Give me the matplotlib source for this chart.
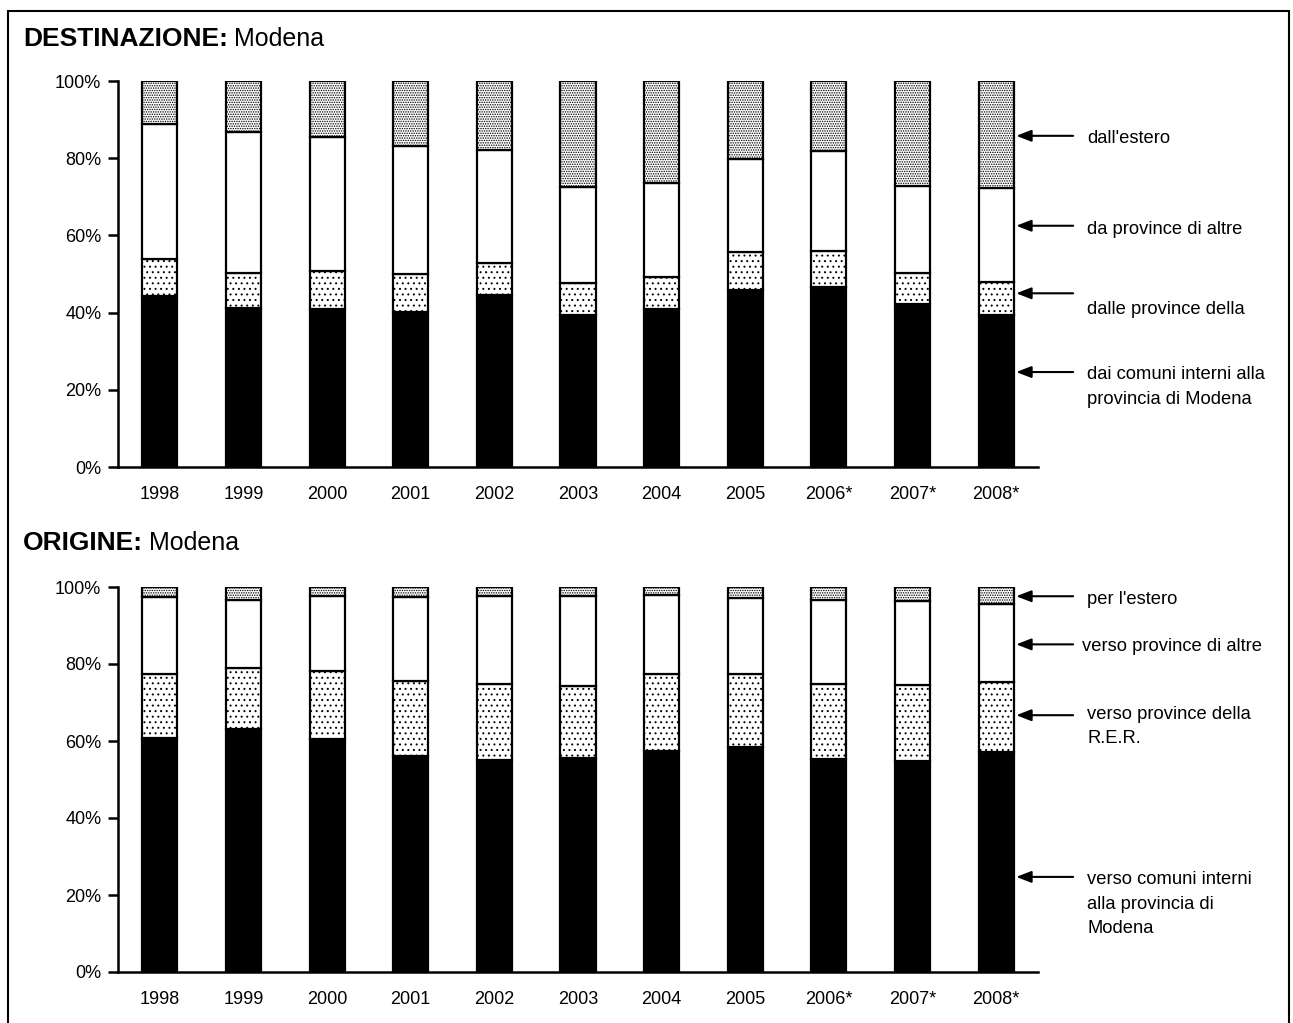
import matplotlib
matplotlib.use('Agg')
import matplotlib.pyplot as plt
import numpy as np
from matplotlib.patches import Rectangle

plt.rcParams['font.family'] = ['Liberation Sans', 'DejaVu Sans']
plt.rcParams['hatch.linewidth'] = 0.7

years = ['1998', '1999', '2000', '2001', '2002', '2003', '2004', '2005', '2006*', '2007*', '2008*']

# DESTINAZIONE (% shares, bottom to top)
dest_comuni = [44.4, 41.3, 41.0, 40.2, 44.6, 39.4, 40.9, 45.9, 46.7, 42.2, 39.4]
dest_rer = [9.4, 8.9, 9.7, 9.7, 8.2, 8.2, 8.2, 9.7, 9.3, 8.0, 8.5]
dest_altre = [35.0, 36.5, 34.7, 33.3, 29.2, 25.0, 24.6, 24.3, 25.9, 22.7, 24.3]
dest_estero = [11.2, 13.3, 14.6, 16.8, 18.0, 27.4, 26.3, 20.1, 18.1, 27.1, 27.8]

# ORIGINE (% shares, bottom to top)
orig_comuni = [60.9, 63.0, 60.4, 56.2, 55.1, 55.7, 57.5, 58.5, 55.3, 54.9, 57.2]
orig_rer = [16.6, 16.0, 17.7, 19.3, 19.6, 18.7, 19.9, 18.8, 19.5, 19.6, 18.0]
orig_altre = [19.8, 17.7, 19.5, 21.8, 23.0, 23.3, 20.4, 19.9, 21.8, 21.9, 20.3]
orig_estero = [2.7, 3.3, 2.4, 2.7, 2.3, 2.3, 2.2, 2.8, 3.4, 3.6, 4.5]

dest_labels = ["dall'estero", "da province di altre", "dalle province della",
               "dai comuni interni alla\nprovincia di Modena"]
orig_labels = ["per l'estero", "verso province di altre", "verso province della\nR.E.R.",
               "verso comuni interni\nalla provincia di\nModena"]

W, H = 1293, 1023
fig = plt.figure(figsize=(W / 100, H / 100), dpi=100)

# outer frame
fig.add_artist(Rectangle((8 / W, -0.01), (1289 - 8) / W, (H - 11) / H + 0.01,
                         transform=fig.transFigure, fill=False, lw=1.5, ec='black'))


def draw(ax, comuni, rer, altre, estero):
    x = np.arange(len(years))
    styles = [('black', None), ('white', '...'), ('white', None), ('white', '.......')]
    bottom = np.zeros(len(years))
    for vals, (fc, hatch) in zip([comuni, rer, altre, estero], styles):
        ax.bar(x, vals, width=0.42, bottom=bottom, color=fc, edgecolor='black',
               linewidth=1.6, hatch=hatch, zorder=2)
        bottom += np.array(vals)
    ax.set_xlim(-0.5, 10.5)
    ax.set_ylim(0, 100)
    ax.set_xticks(x)
    ax.set_xticklabels(years)
    ax.set_yticks(np.arange(0, 101, 20))
    ax.set_yticklabels(['%d%%' % v for v in range(0, 101, 20)])
    ax.tick_params(axis='x', length=0, pad=14, labelsize=13)
    ax.tick_params(axis='y', length=7, width=1.8, pad=5, labelsize=13)
    for s in ['top', 'right']:
        ax.spines[s].set_visible(False)
    for s in ['left', 'bottom']:
        ax.spines[s].set_linewidth(1.8)


def arrows(ax, labels, arrow_y, text_y, text_x):
    for lab, ay, ty, tx in zip(labels, arrow_y, text_y, text_x):
        ax.annotate('', xy=(10.24, ay), xytext=(10.92, ay),
                    arrowprops=dict(arrowstyle='-|>,head_length=0.9,head_width=0.35',
                                    color='black', lw=1.5, shrinkA=0, shrinkB=0),
                    annotation_clip=False)
        ax.text(tx, ty, lab, fontsize=13.2, va='top', ha='left', linespacing=1.6)


ax1 = fig.add_axes([118 / W, (H - 467) / H, 920 / W, 386 / H])
draw(ax1, dest_comuni, dest_rer, dest_altre, dest_estero)
arrows(ax1, dest_labels, [85.8, 62.5, 45.0, 24.6], [87.4, 63.8, 43.1, 26.2],
       [11.09, 11.09, 11.09, 11.09])

ax2 = fig.add_axes([118 / W, (H - 972) / H, 920 / W, 385 / H])
draw(ax2, orig_comuni, orig_rer, orig_altre, orig_estero)
arrows(ax2, orig_labels, [97.6, 85.1, 66.7, 24.7], [98.9, 86.7, 69.2, 26.3],
       [11.09, 11.03, 11.09, 11.09])

# titles: bold part, then regular "Modena" right after it
renderer = fig.canvas.get_renderer()
for bold, ypix in [('DESTINAZIONE:', 39), ('ORIGINE:', 543)]:
    t = fig.text(23 / W, 1 - ypix / H, bold, fontsize=19, fontweight='bold',
                 va='center', ha='left')
    bb = t.get_window_extent(renderer)
    fig.text((bb.x1 + 6) / W, 1 - ypix / H, 'Modena', fontsize=18,
             va='center', ha='left')

fig.savefig('out.png', dpi=100)
